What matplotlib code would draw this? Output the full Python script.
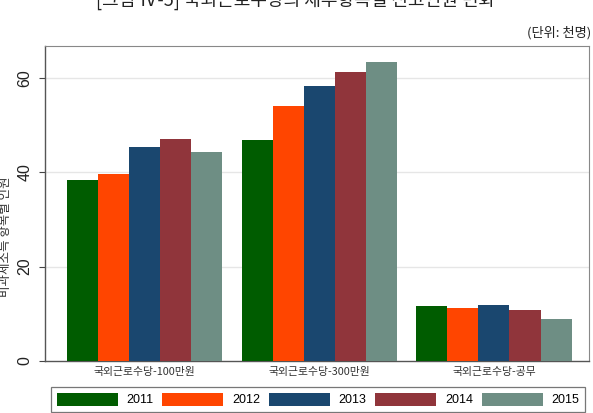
import matplotlib
matplotlib.use("Agg")
import matplotlib.pyplot as plt
import numpy as np

plt.rcParams['font.family'] = ['Noto Sans CJK KR', 'DejaVu Sans']

categories = ["국외근로수당-100만원", "국외근로수당-300만원", "국외근로수당-공무"]
years = ["2011", "2012", "2013", "2014", "2015"]
values = {
    "2011": [38.4, 46.9, 11.7],
    "2012": [39.7, 54.1, 11.3],
    "2013": [45.3, 58.3, 11.9],
    "2014": [47.1, 61.2, 10.8],
    "2015": [44.3, 63.3, 8.8],
}
colors = ["#005c00", "#ff4500", "#1a476f", "#90353b", "#6e8e84"]
yticks = [0, 20, 40, 60]

W, H = 593, 413
fig = plt.figure(figsize=(W / 100, H / 100), dpi=100)
left, right, top, bottom = 45, 589, 46, 361
ax = fig.add_axes([left / W, 1 - bottom / H, (right - left) / W, (bottom - top) / H])

x = np.arange(len(categories))
bw = 0.1777
for i, (yr, c) in enumerate(zip(years, colors)):
    ax.bar(x + (i - 2) * bw, values[yr], width=bw, color=c, label=yr,
           edgecolor='none', zorder=3)

ax.set_xlim(-0.570, 2.544)
ax.set_ylim(0, (bottom - top) / ((361 - 78) / 60))
ax.set_yticks(yticks)
ax.set_yticklabels([str(t) for t in yticks], rotation=90, va='center',
                   fontsize=11.5, color='#222222', family=['Liberation Sans'])
ax.tick_params(axis='y', length=4.5, width=0.8, color='#444444', pad=4.5)
ax.set_xticks(x)
ax.set_xticklabels(categories, fontsize=7.8, color='#333333')
ax.tick_params(axis='x', length=0, pad=4)
for yv in yticks[1:]:
    ax.axhline(yv, color='#e6e6e6', lw=1.0, zorder=1)
for s in ['left', 'bottom']:
    ax.spines[s].set_color('#555555')
    ax.spines[s].set_linewidth(1.0)
for s in ['top', 'right']:
    ax.spines[s].set_color('#888888')
    ax.spines[s].set_linewidth(0.8)

fig.text(6 / W, 1 - 237 / H, "비과세소득 항목별 인원", rotation=90,
         ha='center', va='center', fontsize=9, color='#333333')

fig.text(296 / W, 1.0, "[그림 Ⅳ-5] 국외근로수당의 세부항목별 신고인원 변화",
         ha='center', va='center', fontsize=13, color='#222222')
fig.text(591 / W, 1 - 33 / H, "(단위: 천명)", ha='right', va='center',
         fontsize=9.5, color='#222222')

leg = fig.legend(loc='lower left', ncol=5, mode='expand',
                 bbox_to_anchor=(51 / W, 1 - 412 / H, (585 - 51) / W, (412 - 384) / H),
                 borderaxespad=0, fancybox=False,
                 handlelength=4.9, handleheight=1.2, handletextpad=0.7,
                 borderpad=0.45, prop={'family': ['Liberation Sans'], 'size': 9})
leg.get_frame().set_edgecolor('#555555')
leg.get_frame().set_linewidth(0.9)

fig.savefig("out.png", dpi=100)
